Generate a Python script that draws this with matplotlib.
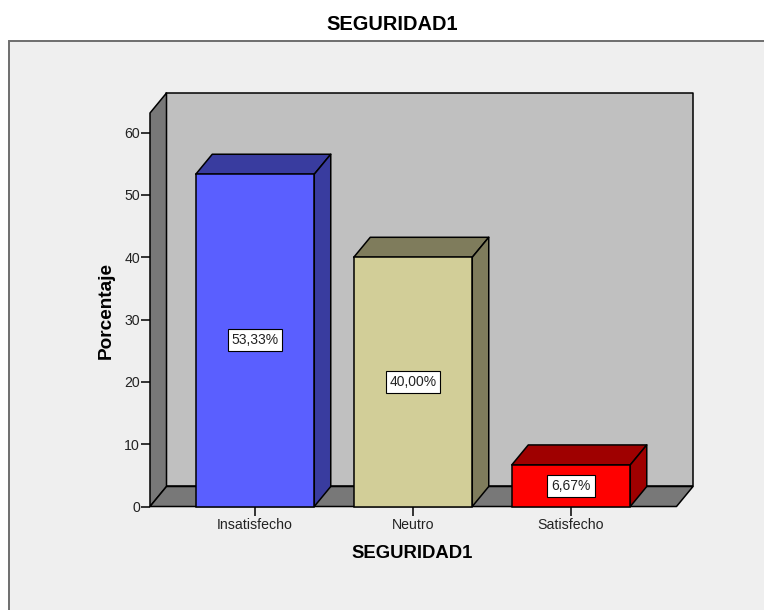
import matplotlib.pyplot as plt
from matplotlib.patches import Polygon, Rectangle

categories = ["Insatisfecho", "Neutro", "Satisfecho"]
values = [53.33, 40.00, 6.67]
labels = ["53,33%", "40,00%", "6,67%"]
yticks = [0, 10, 20, 30, 40, 50, 60]

front_colors = ["#5a5fff", "#d2ce98", "#ff0000"]
side_colors = ["#393c9f", "#7f7c5c", "#9f0000"]

W, H = 764, 610
plt.rcParams['font.family'] = ['Liberation Sans', 'DejaVu Sans']

fig = plt.figure(figsize=(W / 100, H / 100), dpi=100)

# grey panel behind the chart, only top and left edges show
fig.patches.append(Rectangle((9 / W, -0.01), 1, 1 - 40.5 / H + 0.01, transform=fig.transFigure,
                             facecolor="#efefef", edgecolor="#6e6e6e", linewidth=1.4, zorder=-1))

left, right, bottom, top = 150, 676.5, 506.5, 113
ax = fig.add_axes([left / W, 1 - bottom / H, (right - left) / W, (bottom - top) / H])
ax.patch.set_visible(False)
for s in ax.spines.values():
    s.set_visible(False)

ax.set_xlim(-0.6646, 2.6677)
ax.set_ylim(0, 63.16)

# depth of the fake 3d box
dx = 16.5 / 158
dy = 20 / 6.23
x0, x1 = ax.get_xlim()
y1 = ax.get_ylim()[1]


def poly(pts, color, z):
    ax.add_patch(Polygon(pts, closed=True, facecolor=color, edgecolor="black",
                         linewidth=1.1, joinstyle="round", clip_on=False, zorder=z))


poly([(x0 + dx, dy), (x1 + dx, dy), (x1 + dx, y1 + dy), (x0 + dx, y1 + dy)], "#c0c0c0", 1)
poly([(x0, 0), (x0 + dx, dy), (x0 + dx, y1 + dy), (x0, y1)], "#787878", 1)
poly([(x0, 0), (x1, 0), (x1 + dx, dy), (x0 + dx, dy)], "#787878", 1)

bw = 118.5 / 158
for i, v in enumerate(values):
    l, r = i - bw / 2, i + bw / 2
    poly([(l, v), (r, v), (r + dx, v + dy), (l + dx, v + dy)], side_colors[i], 2)
    poly([(r, 0), (r + dx, dy), (r + dx, v + dy), (r, v)], side_colors[i], 2)
    ax.bar(i, v, width=bw, color=front_colors[i], edgecolor="black", linewidth=1.1,
           zorder=3, clip_on=False)
    ax.text(i, v / 2, labels[i], ha="center", va="center", fontsize=10, color="#222222", zorder=4,
            bbox=dict(boxstyle="square,pad=0.28", facecolor="white", edgecolor="black", linewidth=0.8))

ax.set_xticks(range(len(categories)))
ax.set_xticklabels(categories)
ax.set_yticks(yticks)
ax.tick_params(axis="both", direction="out", length=6.3, width=1.1, labelsize=10.2, labelcolor="#222222", pad=1)
ax.tick_params(axis="x", pad=2)

ax.set_xlabel("SEGURIDAD1", fontsize=13.3, fontweight="bold")
ax.xaxis.set_label_coords(412 / W, 1 - 553 / H, transform=fig.transFigure)
ax.xaxis.label.set_verticalalignment("center")
ax.set_ylabel("Porcentaje", fontsize=13.7, fontweight="bold")
ax.yaxis.set_label_coords(106 / W, 1 - 310.5 / H, transform=fig.transFigure)
ax.yaxis.label.set_verticalalignment("center")

fig.text(392 / W, 1 - 25 / H, "SEGURIDAD1", ha="center", va="center", fontsize=14.4, fontweight="bold")

fig.savefig("out.png", dpi=100)
plt.close()
